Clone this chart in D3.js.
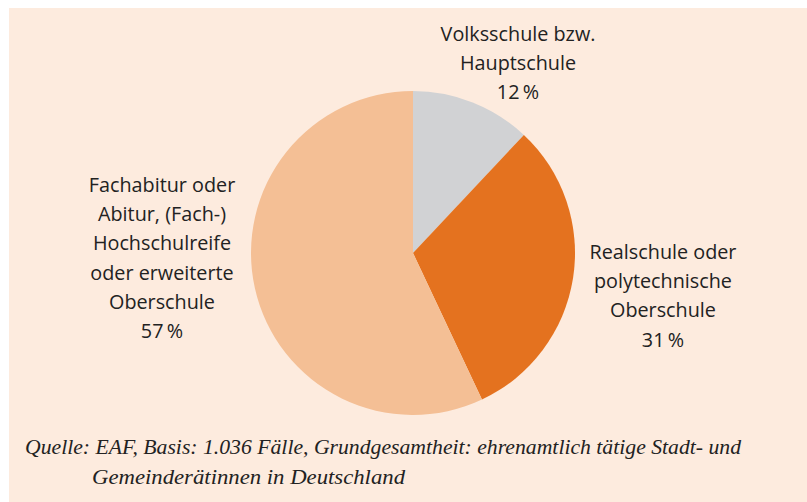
<!DOCTYPE html>
<html>
<head>
<meta charset="utf-8">
<script src="https://cdn.jsdelivr.net/npm/d3@7"></script>
<style>
  html, body { margin: 0; padding: 0; background: #fff; }
  svg { display: block; }
</style>
</head>
<body>
<div id="chart"></div>
<script>
// data
var categories = ["Volksschule bzw. Hauptschule", "Realschule oder polytechnische Oberschule", "Fachabitur oder Abitur, (Fach-) Hochschulreife oder erweiterte Oberschule"];
var values = [12, 31, 57];
var labelLines = [
    ["Volksschule bzw.", "Hauptschule"],
    ["Realschule oder", "polytechnische", "Oberschule"],
    ["Fachabitur oder", "Abitur, (Fach-)", "Hochschulreife", "oder erweiterte", "Oberschule"]
];
var sourceLines = ["Quelle: EAF, Basis: 1.036 Fälle, Grundgesamtheit: ehrenamtlich tätige Stadt- und",
                   "Gemeinderätinnen in Deutschland"];
var sliceColors = ["#D1D2D4", "#E4721F", "#F4BF95"];

window.onload = function(){
    drawChart();
}

function drawChart(){
    var width = 807, height = 502;
    var cx = 413, cy = 253, radius = 162;

    var svg = d3.select("#chart").append("svg")
        .attr("width", width).attr("height", height);

    // peach panel
    svg.append("rect")
        .attr("x", 9).attr("y", 8)
        .attr("width", width - 9).attr("height", height - 8)
        .attr("fill", "#FDEBDE");

    var color = d3.scaleOrdinal().domain(categories).range(sliceColors);

    var pie = d3.pie().sort(null).value(function(d){ return d.value; });
    var data_ready = pie(categories.map(function(c, i){ return {key: c, value: values[i]}; }));

    var arc = d3.arc().innerRadius(0).outerRadius(radius);

    var g = svg.append("g").attr("transform", "translate(" + cx + "," + cy + ")");
    g.selectAll("path").data(data_ready).enter().append("path")
        .attr("d", arc)
        .attr("fill", function(d){ return color(d.data.key); });

    // label anchors (centre x, first baseline), layout only
    var labelPos = [
        {x: 518, y: 41},
        {x: 663, y: 259},
        {x: 162, y: 192}
    ];
    var lineH = 29.2;

    data_ready.forEach(function(d, i){
        var lines = labelLines[i].concat([d.data.value + "\u2009%"]);
        var t = svg.append("text")
            .attr("text-anchor", "middle")
            .attr("font-family", "'Open Sans', sans-serif")
            .attr("font-size", "19.8px")
            .attr("fill", "#222");
        lines.forEach(function(l, j){
            t.append("tspan")
                .attr("x", labelPos[i].x)
                .attr("y", labelPos[i].y + j * lineH)
                .text(l);
        });
    });

    // source note
    svg.append("text")
        .attr("x", 25).attr("y", 454)
        .attr("font-family", "'Liberation Serif', serif")
        .attr("font-style", "italic")
        .attr("font-size", "20.5px")
        .attr("fill", "#222")
        .attr("textLength", 716)
        .attr("lengthAdjust", "spacingAndGlyphs")
        .text(sourceLines[0]);
    svg.append("text")
        .attr("x", 92).attr("y", 484)
        .attr("font-family", "'Liberation Serif', serif")
        .attr("font-style", "italic")
        .attr("font-size", "20.5px")
        .attr("fill", "#222")
        .attr("textLength", 313)
        .attr("lengthAdjust", "spacingAndGlyphs")
        .text(sourceLines[1]);
}
</script>
</body>
</html>
